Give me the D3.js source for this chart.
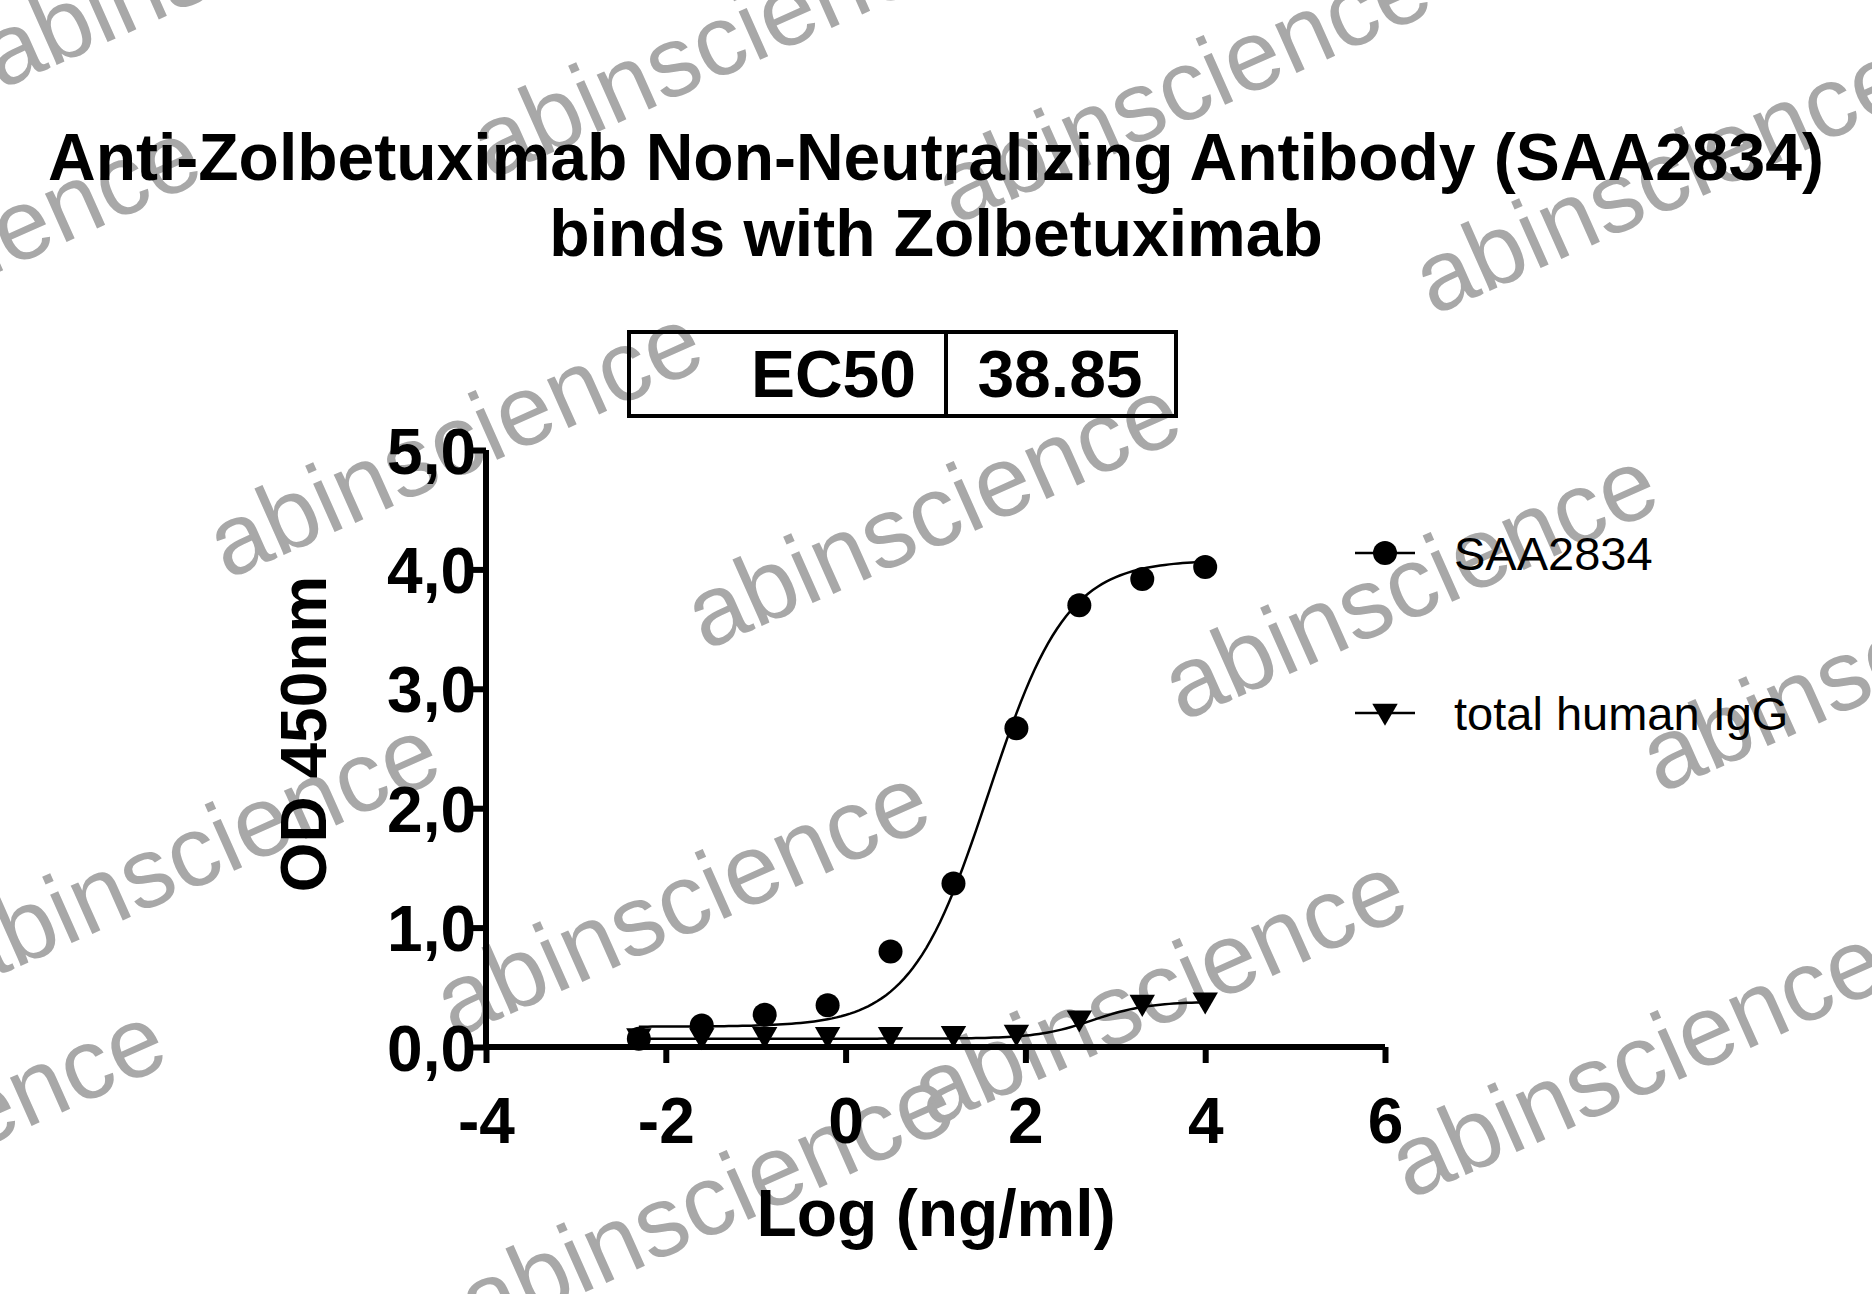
<!DOCTYPE html>
<html><head><meta charset="utf-8">
<script src="https://cdn.jsdelivr.net/npm/d3@7"></script>
<style>body{margin:0;background:#fff}</style>
</head><body>
<svg id="chart" width="1872" height="1294"></svg>
<script>
// data
var logConc = [-2.3, -1.6, -0.9, -0.2, 0.5, 1.2, 1.9, 2.6, 3.3, 4.0];
var saa2834 = [0.07, 0.18, 0.27, 0.35, 0.80, 1.37, 2.67, 3.70, 3.92, 4.02];
var igg = [0.07, 0.07, 0.08, 0.08, 0.08, 0.09, 0.10, 0.22, 0.35, 0.37];
var seriesNames = ['SAA2834', 'total human IgG'];
var xTicks = [-4, -2, 0, 2, 4, 6];
var yTicks = [0, 1, 2, 3, 4, 5];
// 4PL fit parameters (bottom, top, logEC50, hill)
var fitSaa = [0.17, 4.08, 1.59, 1.0];
var fitIgg = [0.07, 0.38, 2.75, 1.4];

var svg = d3.select('#chart');
var font = 'Arial, "Liberation Sans", sans-serif';

// Watermarks (drawn first, behind)
var marks = [[0, 90], [490, 180], [955, 225], [1433, 316], [-275, 394], [227, 580],
  [705, 651], [1182, 722], [1660, 794], [-36, 991], [454, 1039], [931, 1128],
  [1409, 1200], [-310, 1278], [478, 1340]];
marks.forEach(function(m){
  svg.append('text').attr('transform', 'translate(' + m[0] + ',' + m[1] + ') rotate(-24)')
    .style('font', '100px ' + font).attr('fill', '#a8a8a8').text('abinscience');
});

// Title
svg.append('text').attr('x', 936).attr('y', 180).attr('text-anchor', 'middle')
  .style('font', 'bold 66px ' + font).text('Anti-Zolbetuximab Non-Neutralizing Antibody (SAA2834)');
svg.append('text').attr('x', 936).attr('y', 256).attr('text-anchor', 'middle')
  .style('font', 'bold 66px ' + font).text('binds with Zolbetuximab');

// EC50 box
svg.append('rect').attr('x', 629).attr('y', 332).attr('width', 547).attr('height', 84)
  .attr('fill', 'none').attr('stroke', '#000').attr('stroke-width', 4);
svg.append('line').attr('x1', 946).attr('x2', 946).attr('y1', 332).attr('y2', 416)
  .attr('stroke', '#000').attr('stroke-width', 4);
svg.append('text').attr('x', 916).attr('y', 397).attr('text-anchor', 'end')
  .style('font', 'bold 66px ' + font).text('EC50');
svg.append('text').attr('x', 1060).attr('y', 397).attr('text-anchor', 'middle')
  .style('font', 'bold 66px ' + font).text('38.85');

var x = d3.scaleLinear().domain([-4, 6]).range([486, 1385]);
var y = d3.scaleLinear().domain([0, 5]).range([1047, 450]);

// Axes
var xAxis = svg.append('g').attr('transform', 'translate(0,1047)')
  .call(d3.axisBottom(x).tickValues(xTicks).tickSize(16).tickFormat(function(d){ return String(d); }));
var yAxis = svg.append('g').attr('transform', 'translate(486,0)')
  .call(d3.axisLeft(y).tickValues(yTicks).tickSize(16).tickFormat(function(d){ return d + ',0'; }));
[xAxis, yAxis].forEach(function(a){
  a.selectAll('path').attr('stroke', '#000').attr('stroke-width', 6);
  a.selectAll('line').attr('stroke', '#000').attr('stroke-width', 6);
  a.selectAll('text').style('font', 'bold 64px ' + font).attr('fill', '#000');
});
xAxis.selectAll('path').attr('d', 'M486,0H1385');
yAxis.selectAll('path').attr('d', 'M0,450V1047');
xAxis.selectAll('text').attr('dy', '1.2em');
yAxis.selectAll('text').attr('dy', '0.36em').attr('x', -10);

svg.append('text').attr('x', 936).attr('y', 1236).attr('text-anchor', 'middle')
  .style('font', 'bold 66px ' + font).text('Log (ng/ml)');
svg.append('text').attr('transform', 'translate(326,734) rotate(-90)').attr('text-anchor', 'middle')
  .style('font', 'bold 64px ' + font).text('OD 450nm');

// Fitted curves
function fourPL(p){ return function(v){ return p[0] + (p[1]-p[0]) / (1 + Math.pow(10, (p[2]-v)*p[3])); }; }
var curveX = d3.range(-2.3, 4.0001, 0.05);
var line = d3.line().x(function(d){ return x(d[0]); }).y(function(d){ return y(d[1]); });
[fitSaa, fitIgg].forEach(function(p){
  var f = fourPL(p);
  svg.append('path').attr('d', line(curveX.map(function(v){ return [v, f(v)]; })))
    .attr('fill', 'none').attr('stroke', '#000').attr('stroke-width', 2.5);
});

// Markers
var tri = d3.symbol().type(d3.symbolTriangle).size(280);
svg.selectAll('circle.saa').data(logConc).enter().append('circle')
  .attr('cx', function(d){ return x(d); }).attr('cy', function(d,i){ return y(saa2834[i]); })
  .attr('r', 12).attr('fill', '#000');
svg.selectAll('path.igg').data(logConc).enter().append('path')
  .attr('d', tri).attr('fill', '#000')
  .attr('transform', function(d,i){ return 'translate(' + x(d) + ',' + (y(igg[i]) - 3) + ') rotate(180)'; });

// Legend
var legY = [553, 713];
legY.forEach(function(ly, i){
  svg.append('line').attr('x1', 1355).attr('x2', 1415).attr('y1', ly).attr('y2', ly)
    .attr('stroke', '#000').attr('stroke-width', 2.5);
  if (i === 0) svg.append('circle').attr('cx', 1385).attr('cy', ly).attr('r', 12);
  else svg.append('path').attr('d', tri).attr('transform', 'translate(1385,' + (ly-2) + ') rotate(180)');
  svg.append('text').attr('x', 1454).attr('y', ly + 17).style('font', '47px ' + font).text(seriesNames[i]);
});
</script>
</body></html>
